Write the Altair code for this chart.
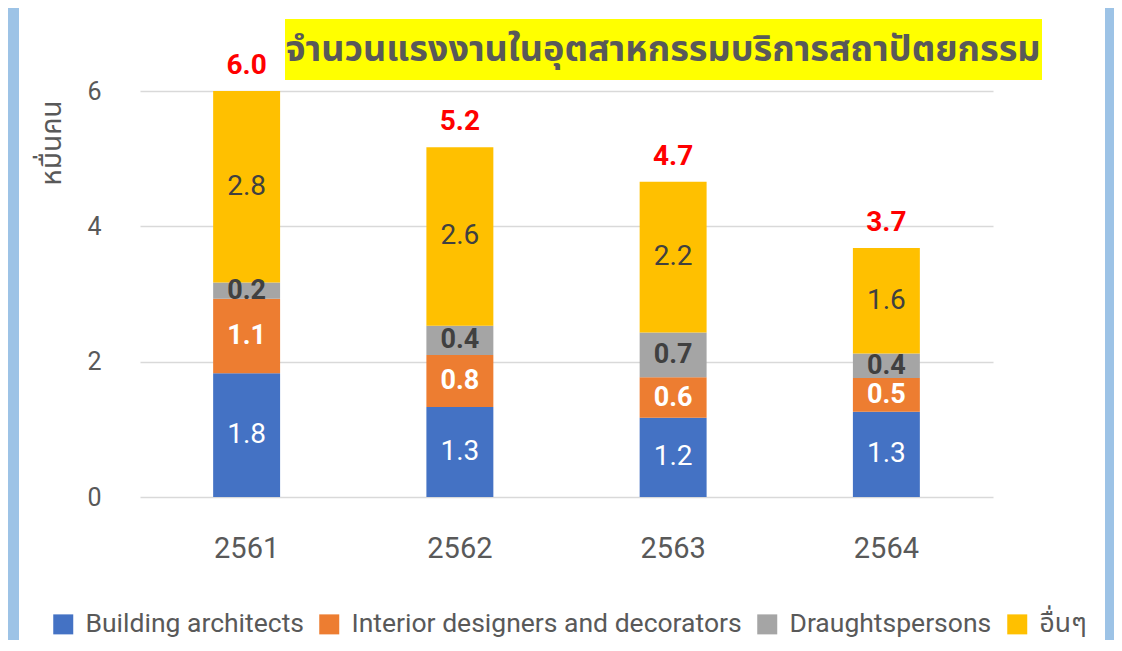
import altair as alt
import pandas as pd

# ---- data ----
years = ["2561", "2562", "2563", "2564"]
series_names = ["Building architects", "Interior designers and decorators", "Draughtspersons", "อื่นๆ"]
architects = [1.83, 1.33, 1.17, 1.26]
interior = [1.10, 0.77, 0.60, 0.50]
draught = [0.24, 0.43, 0.66, 0.36]
others = [2.83, 2.64, 2.23, 1.56]
series_colors = ["#4472C4", "#ED7D31", "#A5A5A5", "#FFC000"]
title_text = "จำนวนแรงงานในอุตสาหกรรมบริการสถาปัตยกรรม"
y_title = "หมื่นคน"
y_ticks = [0, 2, 4, 6]

rows = []
for i, (name, vals) in enumerate(zip(series_names, [architects, interior, draught, others])):
    for yr, v in zip(years, vals):
        rows.append({"year": yr, "series": name, "value": v, "idx": i})
df = pd.DataFrame(rows)

FONT = "Roboto, 'Noto Sans Thai', 'Noto Sans', sans-serif"
GRAY = "#595959"
DARK = "#404040"
BORDER = "#9DC3E6"

W, H = 853, 406

x_enc = alt.X("year:N", sort=years,
              scale=alt.Scale(paddingInner=0.686, paddingOuter=0.343),
              axis=alt.Axis(title=None, labelAngle=0, domain=False, ticks=False,
                            labelFontSize=29, labelColor=GRAY, labelPadding=37,
                            labelFont=FONT, grid=False))

y_scale = alt.Scale(domain=[0, 6], nice=False)

# decorative frame strips and title box
left_strip = alt.Chart(alt.Data(values=[{"a": 1}])).mark_rect(color=BORDER).encode(
    x=alt.value(-132), x2=alt.value(-121), y=alt.value(-83), y2=alt.value(549)
)
right_strip = alt.Chart(alt.Data(values=[{"a": 1}])).mark_rect(color=BORDER).encode(
    x=alt.value(965), x2=alt.value(974), y=alt.value(-83), y2=alt.value(549)
)
title_box = alt.Chart(alt.Data(values=[{"a": 1}])).mark_rect(color="#FFFF00").encode(
    x=alt.value(145), x2=alt.value(902), y=alt.value(-72), y2=alt.value(-11)
)
title = alt.Chart(alt.Data(values=[{"t": title_text}])).mark_text(
    font=FONT, fontSize=36, fontWeight="bold", color=GRAY, baseline="middle", align="center"
).encode(x=alt.value(523), y=alt.value(-41), text="t:N")

base = alt.Chart(df).transform_stack(
    stack="value", groupby=["year"], as_=["y0", "y1"],
    sort=[alt.SortField("idx", order="ascending")]
).transform_calculate(
    mid="(datum.y0 + datum.y1) / 2",
    lc="datum.idx <= 1 ? 'white' : '%s'" % DARK
)

bars = base.mark_bar().encode(
    x=x_enc,
    y=alt.Y("y0:Q", scale=y_scale,
            axis=alt.Axis(values=y_ticks, format="d", grid=True, gridColor="#D9D9D9",
                          gridWidth=1.5, domain=False, ticks=False, tickSize=0,
                          labelFontSize=25, labelColor=GRAY, labelPadding=39,
                          labelFont=FONT, title=y_title, titleFontSize=28,
                          titleFontWeight="normal", titleColor=GRAY, titleFont=FONT,
                          titleAngle=270, titleAlign="right", titleBaseline="middle",
                          titleX=-88, titleY=9)),
    y2="y1:Q",
    color=alt.Color("series:N",
                    scale=alt.Scale(domain=series_names, range=series_colors),
                    legend=alt.Legend(title=None, orient="none", direction="horizontal",
                                      legendX=-90, legendY=520, symbolType="square",
                                      symbolSize=400, symbolStrokeWidth=0,
                                      labelFontSize=26.5, labelColor=GRAY, labelFont=FONT,
                                      labelLimit=0, columnPadding=12, labelOffset=9)),
)

labels_normal = base.transform_filter("datum.idx == 0 || datum.idx == 3").mark_text(
    font=FONT, fontSize=28, baseline="middle"
).encode(
    x=alt.X("year:N", sort=years),
    y=alt.Y("mid:Q", scale=y_scale),
    text=alt.Text("value:Q", format=".1f"),
    color=alt.Color("lc:N", scale=None),
)

labels_bold = base.transform_filter("datum.idx == 1 || datum.idx == 2").mark_text(
    font=FONT, fontSize=27, fontWeight="bold", baseline="middle"
).encode(
    x=alt.X("year:N", sort=years),
    y=alt.Y("mid:Q", scale=y_scale),
    text=alt.Text("value:Q", format=".1f"),
    color=alt.Color("lc:N", scale=None),
)

totals = alt.Chart(df).transform_aggregate(
    total="sum(value)", groupby=["year"]
).mark_text(font=FONT, fontSize=28, fontWeight="bold", color="#FF0000",
            baseline="alphabetic", dy=-17).encode(
    x=alt.X("year:N", sort=years),
    y=alt.Y("total:Q", scale=y_scale),
    text=alt.Text("total:Q", format=".1f"),
)

chart = alt.layer(left_strip, right_strip, title_box, title, bars,
                  labels_normal, labels_bold, totals).properties(
    width=W, height=H,
    padding={"left": 132, "top": 83, "right": 121, "bottom": 143},
    autosize=alt.AutoSizeParams(type="none"),
    background="white",
).configure_view(stroke=None)

chart.save("out.html", embed_options={"renderer": "svg", "actions": False})
